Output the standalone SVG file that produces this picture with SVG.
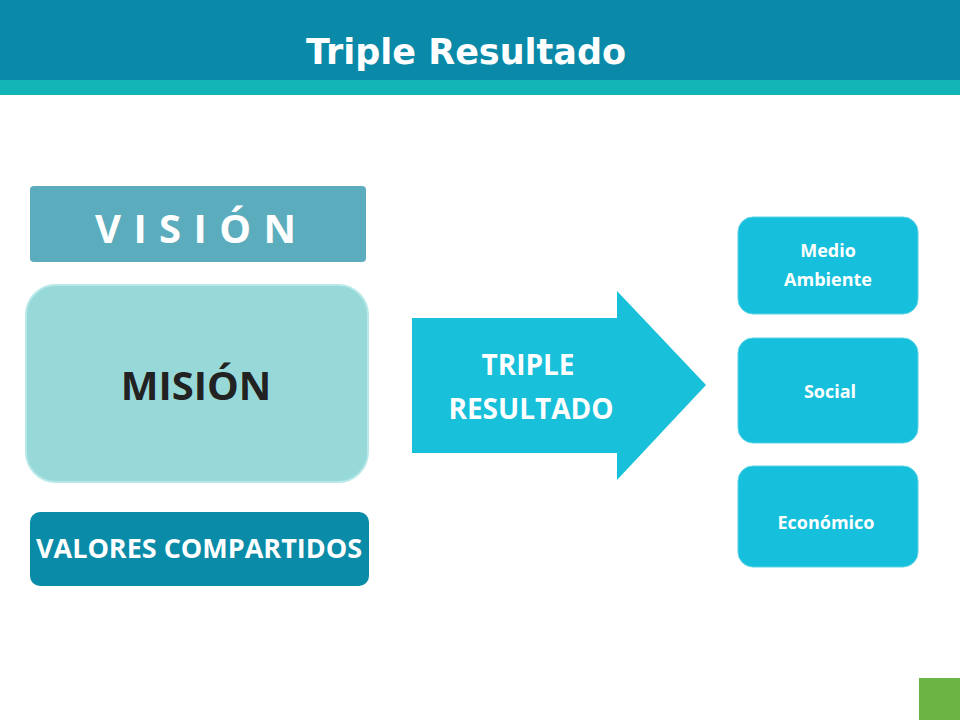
<svg xmlns="http://www.w3.org/2000/svg" width="960" height="720" viewBox="0 0 960 720">
<style>
.t{font-family:"Open Sans","Liberation Sans",sans-serif;font-weight:bold;text-anchor:middle}
.rb{fill:#16C0DC;stroke:#5BD3E6;stroke-width:1}
</style>
<rect width="960" height="720" fill="#fff"/>
<g id="header">
<rect x="0" y="0" width="960" height="80" fill="#0A8AA8"/>
<rect x="0" y="80" width="960" height="15" fill="#12B4B6"/>
<text x="466" y="64" font-family="DejaVu Sans,Verdana,sans-serif" font-weight="bold" text-anchor="middle" font-size="35" fill="#fff">Triple Resultado</text>
</g>
<g id="vision">
<rect x="30" y="186" width="336" height="76" rx="4" fill="#5BACBC"/>
<text class="t" x="196" y="243" font-size="40" fill="#fff" letter-spacing="1">V I S I Ó N</text>
</g>
<g id="mision">
<rect x="26" y="285" width="342" height="197" rx="30" fill="#97D9D9" stroke="#B8E8E8" stroke-width="2"/>
<text class="t" x="196" y="400" font-size="40" fill="#222">MISIÓN</text>
</g>
<g id="valores">
<rect x="30" y="512" width="339" height="74" rx="10" fill="#0A8BA7"/>
<text class="t" x="199" y="558" font-size="26" fill="#fff" textLength="326" lengthAdjust="spacingAndGlyphs">VALORES COMPARTIDOS</text>
</g>
<g id="connectors">
<g id="arrow">
<polygon points="412,318 617,318 617,291 706,385 617,480 617,453 412,453" fill="#18C0DA"/>
<text class="t" x="528" y="375" font-size="28" fill="#fff">TRIPLE</text>
<text class="t" x="531" y="419" font-size="28" fill="#fff">RESULTADO</text>
</g>
</g>
<g id="medio">
<rect class="rb" x="738" y="217" width="180" height="97" rx="15"/>
<text class="t" x="828" y="257" font-size="18" fill="#fff">Medio</text>
<text class="t" x="828" y="286" font-size="18" fill="#fff">Ambiente</text>
</g>
<g id="social">
<rect class="rb" x="738" y="338" width="180" height="105" rx="15"/>
<text class="t" x="830" y="398" font-size="18" fill="#fff">Social</text>
</g>
<g id="economico">
<rect class="rb" x="738" y="466" width="180" height="101" rx="15"/>
<text class="t" x="826" y="529" font-size="18" fill="#fff">Económico</text>
</g>
<rect x="919" y="678" width="41" height="42" fill="#6BB544"/>
</svg>
